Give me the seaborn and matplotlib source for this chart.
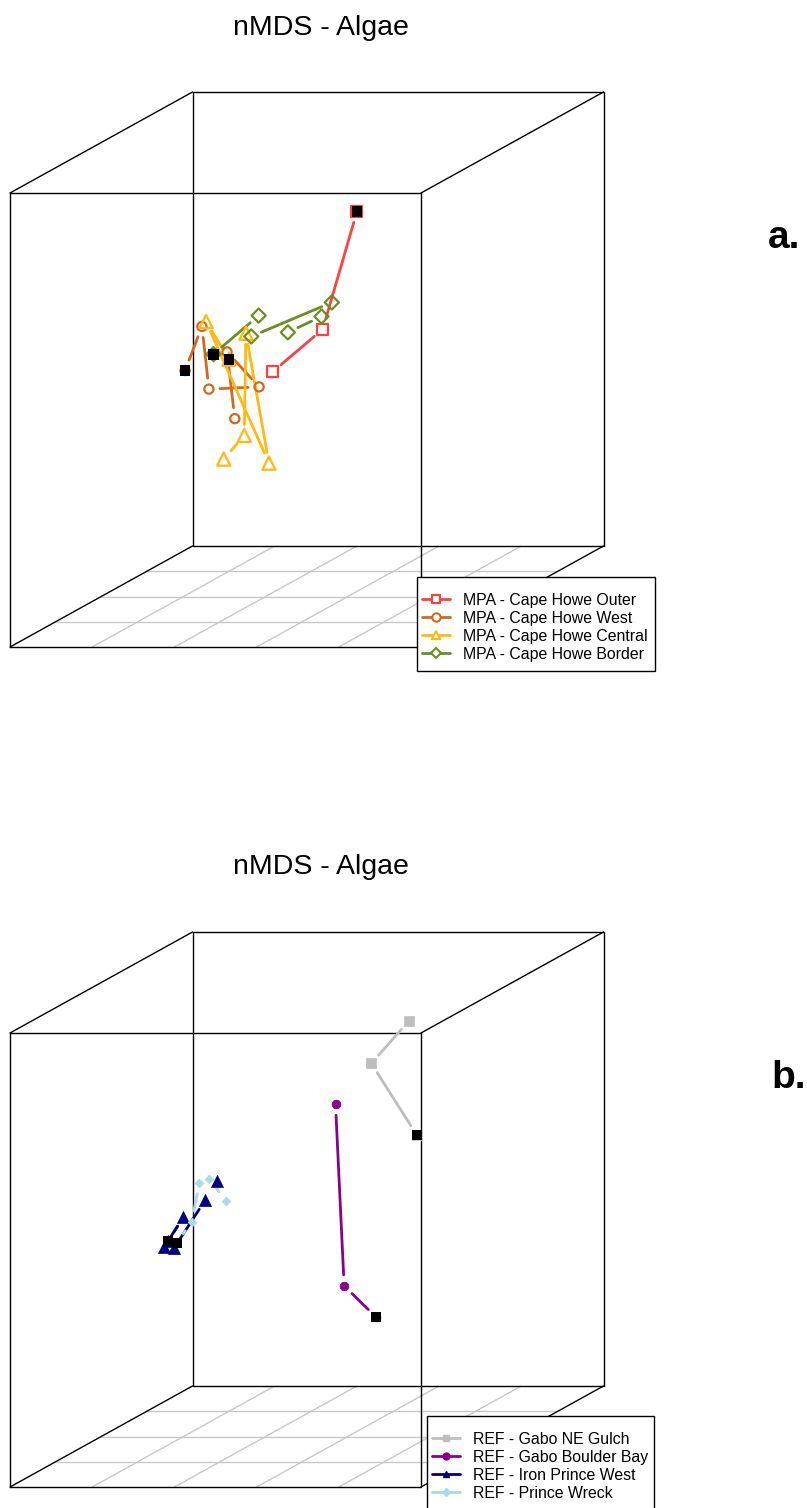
import numpy as np
import pandas as pd
import matplotlib
matplotlib.use("Agg")
import matplotlib.pyplot as plt
from matplotlib.lines import Line2D
from matplotlib.patches import Rectangle
import seaborn as sns

sns.set_theme(style="white")
plt.rcParams["font.family"] = ["Liberation Sans", "DejaVu Sans"]
plt.rcParams["text.color"] = "black"

TITLE = "nMDS - Algae"

# ---- Panel a: MPA sites (projected nMDS scores, front-face units) ----
mpa_labels = ["MPA - Cape Howe Outer", "MPA - Cape Howe West",
              "MPA - Cape Howe Central", "MPA - Cape Howe Border"]
outer_x = [0.844, 0.761, 0.639]
outer_y = [0.959, 0.700, 0.606]
west_x = [0.426, 0.467, 0.484, 0.606, 0.528, 0.547]
west_y = [0.609, 0.706, 0.568, 0.573, 0.650, 0.503]
central_x = [0.533, 0.477, 0.630, 0.574, 0.570, 0.520]
central_y = [0.634, 0.717, 0.405, 0.691, 0.466, 0.414]
border_x = [0.495, 0.605, 0.587, 0.783, 0.758, 0.676]
border_y = [0.645, 0.730, 0.684, 0.759, 0.728, 0.693]

# ---- Panel b: reference sites ----
ref_labels = ["REF - Gabo NE Gulch", "REF - Gabo Boulder Bay",
              "REF - Iron Prince West", "REF - Prince Wreck"]
gulch_x = [0.990, 0.879, 0.970]
gulch_y = [0.775, 0.933, 1.026]
boulder_x = [0.891, 0.813, 0.792]
boulder_y = [0.374, 0.443, 0.843]
ironw_x = [0.385, 0.422, 0.375, 0.399, 0.475, 0.503]
ironw_y = [0.542, 0.595, 0.528, 0.526, 0.632, 0.675]
wreck_x = [0.406, 0.442, 0.461, 0.485, 0.525]
wreck_y = [0.538, 0.584, 0.670, 0.678, 0.631]

mpa_series = [(outer_x, outer_y), (west_x, west_y),
              (central_x, central_y), (border_x, border_y)]
ref_series = [(gulch_x, gulch_y), (boulder_x, boulder_y),
              (ironw_x, ironw_y), (wreck_x, wreck_y)]

# styles: colour, marker, scatter size, filled
mpa_styles = [("#FF4040", "s", 62, False), ("#D2691E", "o", 44, False),
              ("#FFB90F", "^", 90, False), ("#6B8E23", "D", 52, False)]
ref_styles = [("#BEBEBE", "s", 46, True), ("#8B008B", "o", 40, True),
              ("#000080", "^", 75, True), ("#ADD8E6", "D", 20, True)]

W, H = 807, 1508
FRONT_W, FRONT_H = 411.0, 454.0
DEPTH_DX, DEPTH_DY = 182.5, 101.0
LEFT = 10.0

fig = plt.figure(figsize=(W / 100, H / 100), dpi=100)


def make_panel(front_top):
    bottom = front_top + FRONT_H
    ax = fig.add_axes([LEFT / W, (H - bottom) / H,
                       (FRONT_W + DEPTH_DX) / W, (FRONT_H + DEPTH_DY) / H])
    ax.set_xlim(0, (FRONT_W + DEPTH_DX) / FRONT_W)
    ax.set_ylim(0, (FRONT_H + DEPTH_DY) / FRONT_H)
    ax.axis("off")
    dx, dy = DEPTH_DX / FRONT_W, DEPTH_DY / FRONT_H
    grid_kw = dict(color="#C8C8C8", lw=1.0, zorder=1, solid_capstyle="butt")
    # floor grid
    for k in range(1, 4):
        t = k / 4
        ax.plot([t * dx, 1 + t * dx], [t * dy, t * dy], **grid_kw)
    for k in range(1, 5):
        x0 = k / 5
        ax.plot([x0, x0 + dx], [0, dy], **grid_kw)
    edge_kw = dict(color="black", lw=1.0, zorder=2, clip_on=False)
    # back face
    ax.plot([dx, 1 + dx, 1 + dx, dx, dx], [dy, dy, 1 + dy, 1 + dy, dy], **edge_kw)
    # front face
    ax.plot([0, 1, 1, 0, 0], [0, 0, 1, 1, 0], **edge_kw)
    # depth edges
    for cx, cy in [(0, 0), (1, 0), (0, 1), (1, 1)]:
        ax.plot([cx, cx + dx], [cy, cy + dy], **edge_kw)
    return ax


def gapped(ax, xs, ys, gap_px=11.0):
    pts = ax.transData.transform(np.column_stack([xs, ys]))
    inv = ax.transData.inverted()
    rows = []
    for i in range(len(pts) - 1):
        p, q = pts[i], pts[i + 1]
        d = q - p
        L = np.hypot(*d)
        if L <= 2 * gap_px + 1:
            continue
        u = d / L
        a, b = inv.transform([p + u * gap_px, q - u * gap_px])
        rows += [(i, a[0], a[1]), (i, b[0], b[1])]
    return pd.DataFrame(rows, columns=["seg", "x", "y"])


def draw_series(ax, series, styles, first_size):
    for (xs, ys), (col, mk, s, filled) in zip(series, styles):
        seg = gapped(ax, xs, ys)
        if len(seg):
            sns.lineplot(data=seg, x="x", y="y", units="seg", estimator=None,
                         sort=False, color=col, lw=2.0, ax=ax, legend=False,
                         zorder=3, clip_on=False)
        kw = dict(marker=mk, s=s, ax=ax, legend=False, zorder=4, clip_on=False)
        if filled:
            sns.scatterplot(x=xs, y=ys, color=col, edgecolor=col, linewidth=0.5, **kw)
        else:
            sns.scatterplot(x=xs, y=ys, color=col, facecolor="none",
                            edgecolor=col, linewidth=1.6, **kw)
        # first sample of each site highlighted with a black square
        sns.scatterplot(x=xs[:1], y=ys[:1], marker="s", s=first_size,
                        color="black", edgecolor="none", ax=ax, legend=False,
                        zorder=5, clip_on=False)


def add_legend(labels, styles, box, first_row_px, handle_x_px):
    x0, y0, x1, y1 = box
    fig.add_artist(Rectangle((x0 / W, 1 - y1 / H), (x1 - x0) / W, (y1 - y0) / H,
                             transform=fig.transFigure, facecolor="white",
                             edgecolor="black", lw=1.0, zorder=3))
    handles = []
    for col, mk, s, filled in styles:
        ms = 6 if mk != "D" else 5
        if filled:
            handles.append(Line2D([], [], color=col, lw=2, marker=mk,
                                  markersize=ms - 1, markerfacecolor=col,
                                  markeredgecolor=col))
        else:
            handles.append(Line2D([], [], color=col, lw=2, marker=mk,
                                  markersize=ms, markerfacecolor="white",
                                  markeredgecolor=col, markeredgewidth=1.5))
    leg = fig.legend(handles, labels, loc="upper left",
                     bbox_to_anchor=(handle_x_px / W, 1 - (first_row_px - 7.5) / H),
                     frameon=False, fontsize=11.4, handlelength=1.77,
                     handletextpad=0.82, borderpad=0, labelspacing=0.2,
                     borderaxespad=0)
    leg.set_zorder(10)
    return leg


# Panel a
ax_a = make_panel(193)
draw_series(ax_a, mpa_series, mpa_styles, 60)
fig.text(321 / W, 1 - 28 / H, TITLE, ha="center", va="center", fontsize=20.5)
fig.text(784 / W, 1 - 238 / H, "a.", ha="center", va="center",
         fontsize=28, fontweight="bold")
add_legend(mpa_labels, mpa_styles, (417, 577, 655, 671), 600, 422)

# Panel b
ax_b = make_panel(1033)
draw_series(ax_b, ref_series, ref_styles, 54)
fig.text(321 / W, 1 - 867 / H, TITLE, ha="center", va="center", fontsize=20.5)
fig.text(789 / W, 1 - 1078 / H, "b.", ha="center", va="center",
         fontsize=28, fontweight="bold")
add_legend(ref_labels, ref_styles, (427, 1416, 654, 1512), 1439, 432)

fig.savefig("out.png", dpi=100, facecolor="white")
